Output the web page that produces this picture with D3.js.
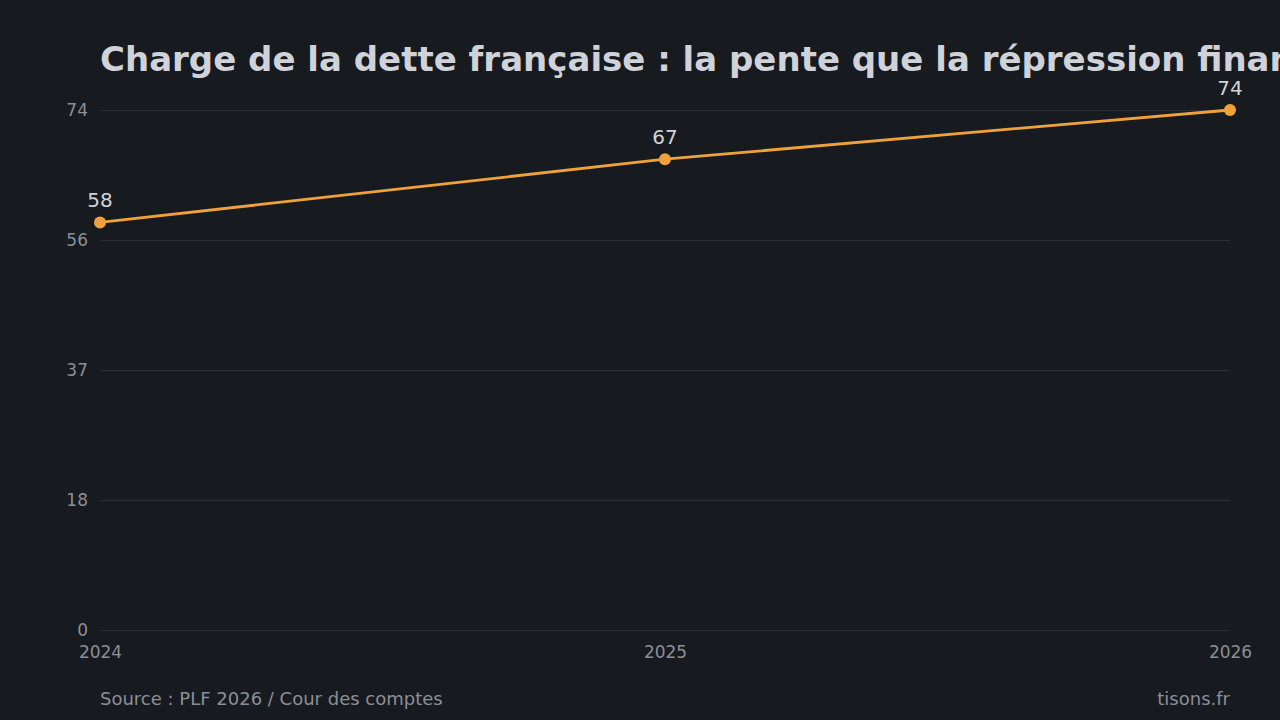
<!DOCTYPE html>
<html>
<head>
<meta charset="utf-8">
<script src="https://cdn.jsdelivr.net/npm/d3@7"></script>
<style>
html,body{margin:0;padding:0;background:#171a1f;}
svg{display:block;}
text{font-family:"DejaVu Sans",sans-serif;}
</style>
</head>
<body>
<svg id="chart" width="1280" height="720"></svg>
<script>
const years = ["2024", "2025", "2026"];
const values = [58, 67, 74];
const yTickValues = [0, 18.5, 37, 55.5, 74];
const yTickLabels = ["0", "18", "37", "56", "74"];
const title = "Charge de la dette française : la pente que la répression financière a effacée";
const source = "Source : PLF 2026 / Cour des comptes";
const brand = "tisons.fr";

const W = 1280, H = 720;
const m = {left: 100, right: 50, top: 110, bottom: 90};
const svg = d3.select("#chart");
svg.append("rect").attr("width", W).attr("height", H).attr("fill", "#171a1f");

const x = d3.scalePoint().domain(years).range([m.left, W - m.right]);
const y = d3.scaleLinear().domain([0, 74]).range([H - m.bottom, m.top]);

// grid
const yAxis = d3.axisLeft(y).tickValues(yTickValues)
  .tickFormat((d, i) => yTickLabels[i]).tickSize(-(W - m.right - m.left)).tickPadding(12);
const gy = svg.append("g").attr("transform", `translate(${m.left},0)`).call(yAxis);
gy.select(".domain").remove();
gy.selectAll(".tick line").attr("stroke", "#2a2e35").attr("stroke-width", 1);
gy.selectAll(".tick text").attr("fill", "#8b8f96").attr("font-size", 17)
  .attr("font-family", "DejaVu Sans, sans-serif");

const xAxis = d3.axisBottom(x).tickSize(0).tickPadding(16);
const gx = svg.append("g").attr("transform", `translate(0,${H - m.bottom})`).call(xAxis);
gx.select(".domain").remove();
gx.selectAll(".tick text").attr("fill", "#8b8f96").attr("font-size", 17)
  .attr("font-family", "DejaVu Sans, sans-serif");

// line
const data = years.map((yr, i) => ({yr, v: values[i]}));
svg.append("path").datum(data)
  .attr("fill", "none").attr("stroke", "#f0a23a").attr("stroke-width", 2.8)
  .attr("d", d3.line().x(d => x(d.yr)).y(d => y(d.v)));
svg.selectAll("circle.pt").data(data).enter().append("circle")
  .attr("class", "pt").attr("cx", d => x(d.yr)).attr("cy", d => y(d.v))
  .attr("r", 6).attr("fill", "#f0a23a");
svg.selectAll("text.lbl").data(data).enter().append("text")
  .attr("class", "lbl").attr("x", d => x(d.yr)).attr("y", d => y(d.v) - 15)
  .attr("text-anchor", "middle").attr("fill", "#d0d3d8").attr("font-size", 20)
  .text(d => d.v);

// title
svg.append("text").attr("x", 100).attr("y", 71).attr("fill", "#cfd2d8")
  .attr("font-size", 34).attr("font-weight", "bold").text(title);

// footer
svg.append("text").attr("x", 100).attr("y", 705).attr("fill", "#8b8f96")
  .attr("font-size", 18).text(source);
svg.append("text").attr("x", 1230).attr("y", 705).attr("text-anchor", "end")
  .attr("fill", "#8b8f96").attr("font-size", 18).text(brand);
</script>
</body>
</html>
